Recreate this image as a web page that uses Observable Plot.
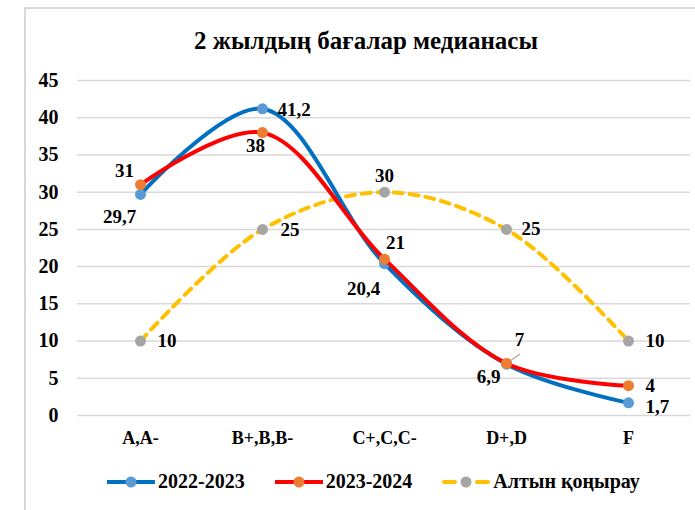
<!DOCTYPE html>
<html>
<head>
<meta charset="utf-8">
<script src="https://cdn.jsdelivr.net/npm/d3@7"></script>
<script src="https://cdn.jsdelivr.net/npm/@observablehq/plot@0.6"></script>
<style>
  html, body { margin: 0; padding: 0; background: #fff; }
  body { width: 695px; height: 510px; overflow: hidden; position: relative;
         font-family: "Liberation Serif", "Times New Roman", serif; }
  #frame { position: absolute; left: 24px; top: 7px; width: 700px; height: 520px;
           border: 2px solid #d9d9d9; box-sizing: border-box; }
  #title { position: absolute; left: 0; width: 732px; top: 27px; text-align: center;
           font-weight: bold; font-size: 25px; color: #000; }
  #chart { position: absolute; left: 0; top: 0; }
  #legend { position: absolute; left: 107px; top: 470px; display: flex; align-items: center;
            font-weight: bold; font-size: 20px; color: #000; }
  .item { display: flex; align-items: center; margin-right: 30px; }
  .item svg { margin-right: 3px; }
</style>
</head>
<body>
<div id="frame"></div>
<div id="title">2 жылдың бағалар медианасы</div>
<div id="chart"></div>
<div id="legend"></div>
<script>
const categories = ["A,A-", "B+,B,B-", "C+,C,C-", "D+,D", "F"];
const seriesNames = ["2022-2023", "2023-2024", "Алтын қоңырау"];
const values2022 = [29.7, 41.2, 20.4, 6.9, 1.7];
const values2023 = [31, 38, 21, 7, 4];
const valuesGold = [10, 25, 30, 25, 10];
const yTicks = [0, 5, 10, 15, 20, 25, 30, 35, 40, 45];

const styles = {
  "2022-2023": {line: "#0070C0", dot: "#5B9BD5", dash: null},
  "2023-2024": {line: "#FF0000", dot: "#ED7D31", dash: null},
  "Алтын қоңырау": {line: "#FFC000", dot: "#A5A5A5", dash: "9,7"}
};
const seriesValues = {"2022-2023": values2022, "2023-2024": values2023, "Алтын қоңырау": valuesGold};

const rows = [];
for (const s of seriesNames) {
  seriesValues[s].forEach((v, i) => rows.push({series: s, cat: categories[i], value: v, i,
    label: String(v).replace(".", ",")}));
}

// label placement [dx, dy, anchor] per series and category index
const place = {
  "2022-2023": [[-21, 23, "middle"], [15, 1, "start"], [-21, 25, "middle"], [-18, 13, "middle"], [17, 4, "start"]],
  "2023-2024": [[-16, -14, "middle"], [-7, 13, "middle"], [11, -16, "middle"], [13, -23, "middle"], [17, 0, "start"]],
  "Алтын қоңырау": [[17, 0, "start"], [18, 1, "start"], [0, -16, "middle"], [15, 0, "start"], [17, 0, "start"]]
};

const order = ["Алтын қоңырау", "2022-2023", "2023-2024"];
const marks = [
  Plot.ruleY(yTicks, {stroke: "#d9d9d9", strokeWidth: 1.5})
];
for (const s of order) {
  const d = rows.filter(r => r.series === s);
  const st = styles[s];
  marks.push(Plot.line(d, {x: "cat", y: "value", stroke: st.line, strokeWidth: 4,
    curve: "catmull-rom", strokeDasharray: st.dash || undefined}));
  if (s === "2023-2024") {
    // leader line for label "7"
    marks.push(Plot.vector(d.filter(r => r.i === 3), {x: "cat", y: "value", length: 16, rotate: 55,
      anchor: "start", stroke: "#A5A5A5", strokeWidth: 1.2, shape: {draw(ctx, l) { ctx.moveTo(0, 0); ctx.lineTo(0, -l); }}}));
  }
  marks.push(Plot.dot(d, {x: "cat", y: "value", r: 5.5, fill: st.dot, stroke: "none"}));
}
for (const r of rows) {
  const [dx, dy, anchor] = place[r.series][r.i];
  marks.push(Plot.text([r], {x: "cat", y: "value", text: "label", dx, dy, textAnchor: anchor,
    fontSize: 19, fontWeight: "bold", fill: "#000"}));
}

const chart = Plot.plot({
  width: 695,
  height: 460,
  marginTop: 80,
  marginBottom: 45,
  marginLeft: 77,
  marginRight: 5,
  style: {background: "transparent", fontFamily: "'Liberation Serif', 'Times New Roman', serif", overflow: "visible"},
  x: {type: "point", domain: categories, padding: 0.5, label: null},
  y: {domain: [0, 45], label: null},
  marks: [
    ...marks,
    Plot.axisX({tickSize: 0, tickPadding: 16, fontSize: 18, fontWeight: "bold", fill: "#000", label: null}),
    Plot.axisY(yTicks, {tickSize: 0, tickPadding: 19, fontSize: 20, fontWeight: "bold", fill: "#000", label: null})
  ]
});
document.getElementById("chart").appendChild(chart);

const legend = document.getElementById("legend");
for (const s of seriesNames) {
  const st = styles[s];
  const item = document.createElement("div");
  item.className = "item";
  const lineSvg = st.dash
    ? `<line x1="2" x2="13" y1="7" y2="7" stroke="${st.line}" stroke-width="4" stroke-linecap="round"/><line x1="35" x2="46" y1="7" y2="7" stroke="${st.line}" stroke-width="4" stroke-linecap="round"/>`
    : `<line x1="0" x2="48" y1="7" y2="7" stroke="${st.line}" stroke-width="4" stroke-linecap="round"/>`;
  item.innerHTML = `<svg width="48" height="14">${lineSvg}<circle cx="24" cy="7" r="5.5" fill="${st.dot}"/></svg><span>${s}</span>`;
  legend.appendChild(item);
}
</script>
</body>
</html>
